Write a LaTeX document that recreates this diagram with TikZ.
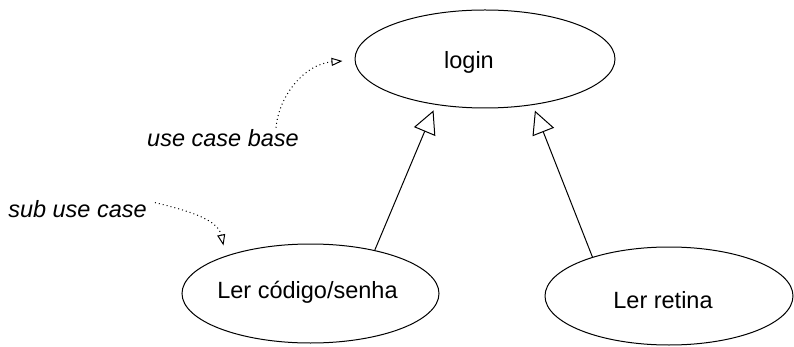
\documentclass[tikz,border=0pt]{standalone}
\usepackage{fontspec}
\setmainfont{Liberation Sans}
\usetikzlibrary{shapes.geometric,arrows.meta,calc}
\begin{document}
\begin{tikzpicture}[x=1pt,y=-1pt,
  usecase/.style={draw=black, line width=1pt, ellipse, inner sep=0pt},
  lbl/.style={anchor=base, inner sep=0pt, font=\fontsize{23.5}{28}\selectfont},
  note/.style={lbl, font=\fontsize{23.5}{28}\selectfont\itshape},
  gen/.style={draw=black, line width=1pt, -{Triangle[open, length=23pt, width=23pt]}},
  hint/.style={draw=black, line width=1pt, dash pattern=on 1pt off 3pt,
    -{Triangle[open, length=11pt, width=8pt]}}]
\useasboundingbox (0,0) rectangle (794,347);
% use cases
\node[usecase, minimum width=260pt, minimum height=98pt] (login) at (485,59) {};
\node[usecase, minimum width=257pt, minimum height=99pt] (cod) at (310.5,293.5) {};
\node[usecase, minimum width=248pt, minimum height=98pt] (ret) at (669,296) {};
% texts
\node[lbl] (loginT) at (469,69) {login};
\node[lbl] (codT) at (307.5,298) {Ler código/senha};
\node[lbl] (retT) at (663,308) {Ler retina};
\node[note] (ucb) at (223,147) {use case base};
\node[note] (suc) at (77.5,218) {sub use case};
% generalisations
\draw[gen, shorten >=6pt] (cod.34) -- (login.223);
\draw[gen, shorten >=6pt] (ret.153.7) -- (login.316);
% hint arrows
\coordinate (ucbEnd) at ($(login.west)+(-12,2)$);
\coordinate (sucEnd) at ($(cod.center)+(-87,-48)$);
\draw[hint] ($(ucb.north east)+(-23,-2)$) .. controls (279,95) and (305,64) .. (ucbEnd);
\draw[hint] ($(suc.east)+(8,-7)$) .. controls (190,211) and (218,220) .. (sucEnd);
\end{tikzpicture}
\end{document}
